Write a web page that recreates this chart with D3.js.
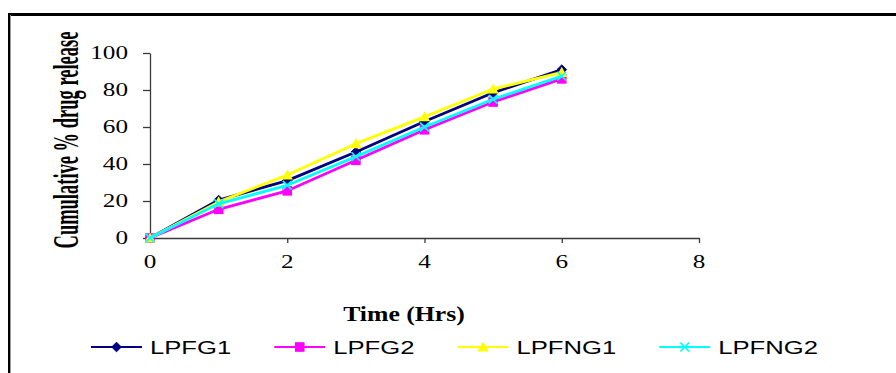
<!DOCTYPE html>
<html>
<head>
<meta charset="utf-8">
<script src="https://cdn.jsdelivr.net/npm/d3@7"></script>
<style>
  html, body { margin: 0; padding: 0; background: #fff; }
  svg { display: block; }
</style>
</head>
<body>
<svg id="chart" width="896" height="373"></svg>
<script>
// Dissolution profile: cumulative % drug release over time
const hours = [0, 1, 2, 3, 4, 5, 6];
const seriesNames = ["LPFG1", "LPFG2", "LPFNG1", "LPFNG2"];
const lpfg1  = [0, 20.5, 31, 46.5, 63, 78.5, 91];
const lpfg2  = [0, 15.5, 25.5, 42, 58.5, 73.5, 86];
const lpfng1 = [0, 19.5, 34, 51, 65.5, 80.5, 89.5];
const lpfng2 = [0, 18.5, 28.5, 44, 60, 75, 87.5];
const xTicks = [0, 2, 4, 6, 8];
const yTicks = [0, 20, 40, 60, 80, 100];
const xTitle = "Time (Hrs)";
const yTitle = "Cumulative % drug release";

const seriesValues = [lpfg1, lpfg2, lpfng1, lpfng2];
const colors = ["#000080", "#ff00ff", "#ffff00", "#00ffff"];
const markers = ["diamond", "square", "triangle", "cross"];

const SERIF = "'Liberation Serif', 'Times New Roman', serif";
const SANS = "'Liberation Sans', Arial, sans-serif";
const STRETCH = 1.4;   // wide text rendering

const svg = d3.select("#chart");

// frame: heavy rule at the top and on the left edge
svg.append("rect").attr("x", 8).attr("y", 13).attr("width", 888).attr("height", 3).attr("fill", "#000");
svg.append("rect").attr("x", 8).attr("y", 13).attr("width", 3).attr("height", 360).attr("fill", "#000");
svg.append("rect").attr("x", 10).attr("y", 15).attr("width", 1).attr("height", 358).attr("fill", "#9a9a9a");

const x = d3.scaleLinear().domain([0, 8]).range([150, 699]);
const y = d3.scaleLinear().domain([0, 100]).range([238, 53]);

// axes
const axisColor = "#3a3a3a";
const gx = svg.append("g").attr("transform", `translate(0,${y(0)})`)
  .call(d3.axisBottom(x).tickValues(xTicks).tickSize(5).tickSizeOuter(0).tickFormat(""));
const gy = svg.append("g").attr("transform", `translate(${x(0)},0)`)
  .call(d3.axisLeft(y).tickValues(yTicks).tickSize(7).tickSizeOuter(0).tickFormat(""));
[gx, gy].forEach(g => {
  g.selectAll("path, line").attr("stroke", axisColor).attr("stroke-width", 1.3);
});

function wideText(parent, px, py, str, opts) {
  return parent.append("text")
    .attr("transform", `translate(${px},${py}) scale(${opts.sx || STRETCH},1)`)
    .attr("text-anchor", opts.anchor || "start")
    .attr("font-family", opts.family || SERIF)
    .attr("font-size", opts.size || 17)
    .attr("font-weight", opts.weight || "normal")
    .attr("fill", "#000")
    .text(str);
}

// tick labels
yTicks.forEach(v => {
  wideText(svg, 128, y(v) + 6, d3.format("d")(v), { anchor: "end", size: 18 });
});
xTicks.forEach(v => {
  wideText(svg, x(v), 268, d3.format("d")(v), { anchor: "middle", size: 18 });
});

// axis titles
svg.append("text")
  .attr("transform", `translate(78,140) rotate(-90) scale(1,1.95)`)
  .attr("text-anchor", "middle")
  .attr("font-family", SERIF)
  .attr("font-weight", "bold")
  .attr("font-size", 18.5)
  .attr("fill", "#000")
  .text(yTitle);
wideText(svg, 404, 321, xTitle, { anchor: "middle", size: 22, weight: "bold", sx: 1.17 });

// marker shapes
function drawMarker(g, kind, cx, cy, color, scale) {
  const s = scale || 1;
  if (kind === "diamond") {
    const r = 4.8 * s;
    g.append("path").attr("d", `M${cx},${cy - r}L${cx + r},${cy}L${cx},${cy + r}L${cx - r},${cy}Z`)
      .attr("fill", color).attr("stroke", color);
  } else if (kind === "square") {
    const r = 4.8 * s;
    g.append("rect").attr("x", cx - r).attr("y", cy - r).attr("width", 2 * r).attr("height", 2 * r)
      .attr("fill", color);
  } else if (kind === "triangle") {
    const r = 5.6 * s;
    g.append("path").attr("d", `M${cx},${cy - r}L${cx + r},${cy + r * 0.8}L${cx - r},${cy + r * 0.8}Z`)
      .attr("fill", color);
  } else {
    const r = 4.4 * s;
    g.append("path").attr("d", `M${cx - r},${cy - r}L${cx + r},${cy + r}M${cx - r},${cy + r}L${cx + r},${cy - r}`)
      .attr("stroke", color).attr("stroke-width", 1.6).attr("fill", "none");
  }
}

// series lines and markers
const line = d3.line().x((d, i) => x(hours[i])).y(d => y(d));
seriesValues.forEach((vals, si) => {
  const g = svg.append("g");
  g.append("path").datum(vals).attr("d", line)
    .attr("fill", "none").attr("stroke", colors[si]).attr("stroke-width", 2.8)
    .attr("stroke-linejoin", "round");
  vals.forEach((v, i) => drawMarker(g, markers[si], x(hours[i]), y(v), colors[si]));
});

// legend
let lx = 91;
const ly = 347;
seriesNames.forEach((name, si) => {
  const g = svg.append("g");
  g.append("line").attr("x1", lx).attr("x2", lx + 51).attr("y1", ly).attr("y2", ly)
    .attr("stroke", colors[si]).attr("stroke-width", 2.2);
  drawMarker(g, markers[si], lx + 25.5, ly, colors[si], 1);
  const t = wideText(g, lx + 59, ly + 7, name, { family: SANS, size: 19, sx: 1.35 });
  const w = t.node().getComputedTextLength() * 1.35;
  lx += 59 + w + 43;
});
</script>
</body>
</html>
